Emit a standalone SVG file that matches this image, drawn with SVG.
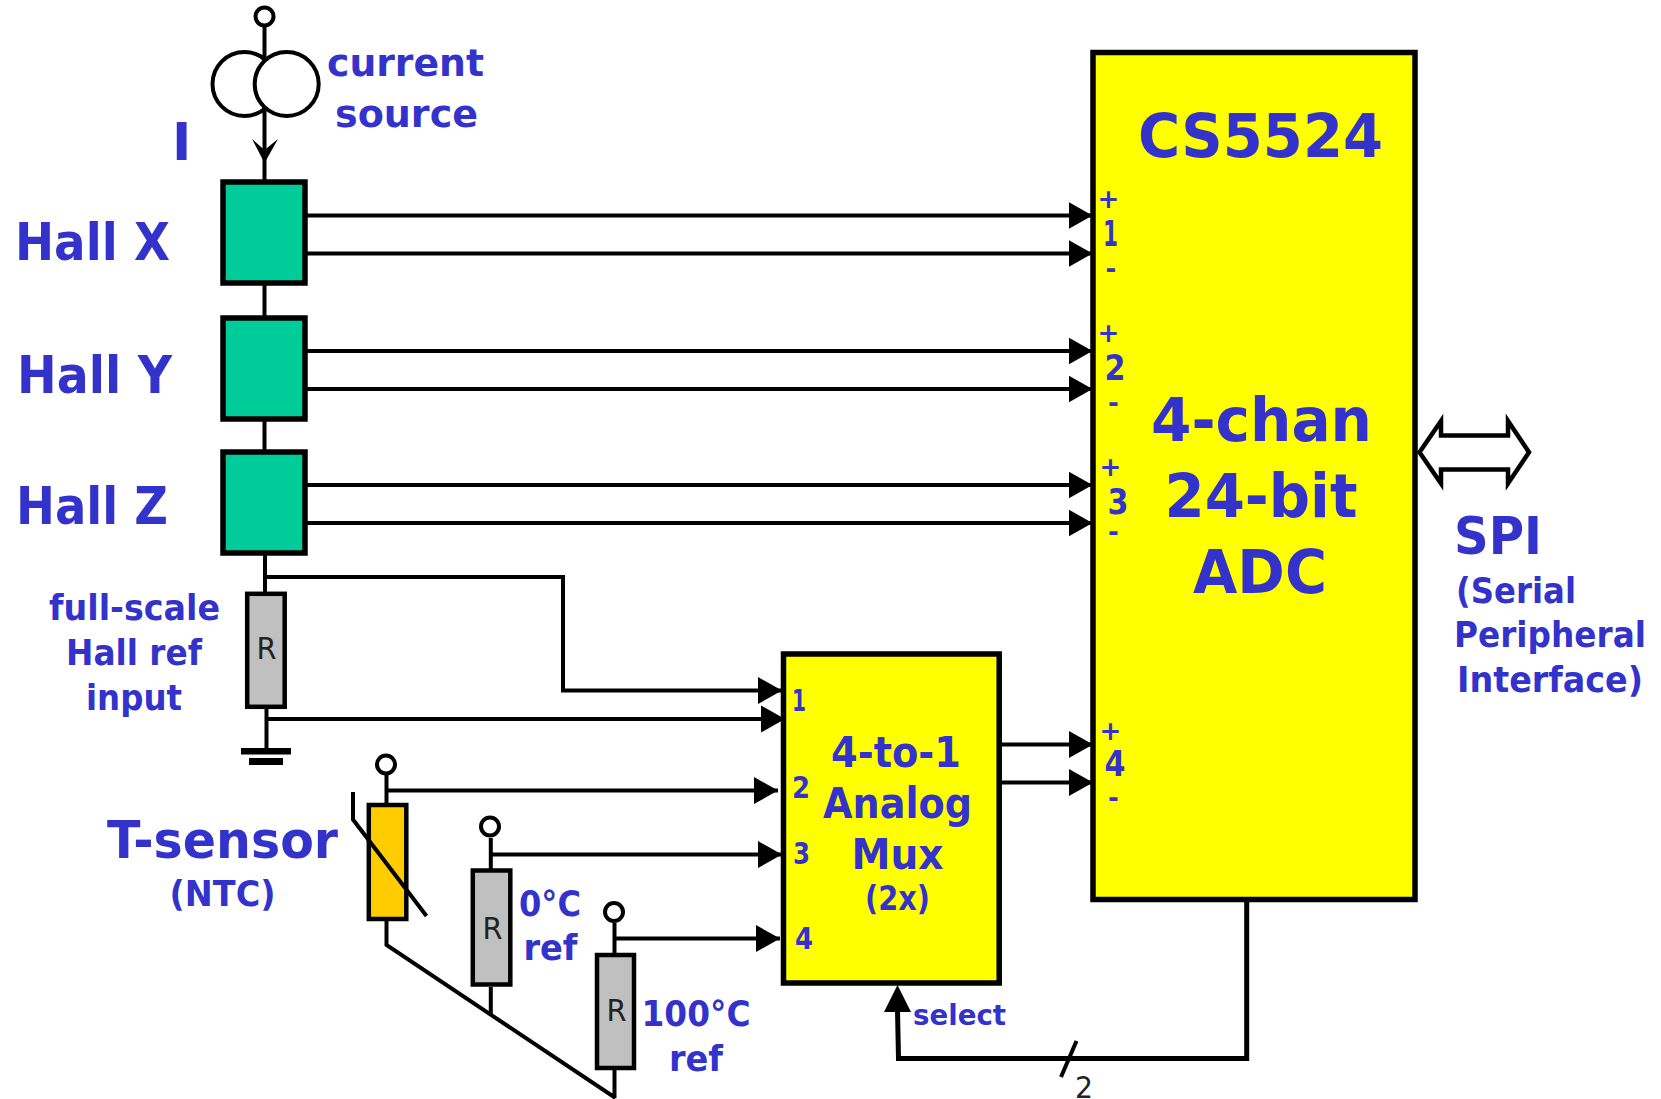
<svg xmlns="http://www.w3.org/2000/svg" width="1661" height="1099" viewBox="0 0 1661 1099">
<style>
text{font-family:"DejaVu Sans","Liberation Sans",sans-serif;font-weight:700;fill:#3333cc}
text.r{font-weight:400;fill:#222}
.box{stroke:#000;stroke-width:5.5}
.res{stroke:#000;stroke-width:4.5;fill:#c0c0c0}
.w{stroke:#000;stroke-width:4;fill:none}
.t{stroke:#000;stroke-width:4;fill:#fff}
</style>
<defs>
<marker id="a" markerUnits="userSpaceOnUse" markerWidth="25" markerHeight="28" refX="24" refY="14" orient="auto"><path d="M0 0.5L24 14L0 27.500z" fill="#000"/></marker>
</defs>
<g id="hall-x"><rect class="box" x="223" y="182" width="82" height="101" fill="#00cc99"/>
<text x="15" y="260" font-size="52" textLength="155" lengthAdjust="spacingAndGlyphs">Hall X</text></g>
<g id="hall-y"><rect class="box" x="223" y="318" width="82" height="101" fill="#00cc99"/>
<text x="17" y="392.500" font-size="52" textLength="155" lengthAdjust="spacingAndGlyphs">Hall Y</text></g>
<g id="hall-z"><rect class="box" x="223" y="452" width="82" height="101" fill="#00cc99"/>
<text x="16" y="524" font-size="52" textLength="152" lengthAdjust="spacingAndGlyphs">Hall Z</text></g>
<g id="hall-ref">
<rect class="res" x="247.200" y="593.800" width="37.500" height="113"/>
<text class="r" x="256.500" y="659" font-size="30" textLength="20" lengthAdjust="spacingAndGlyphs">R</text>
<text x="49" y="620" font-size="35" textLength="171" lengthAdjust="spacingAndGlyphs">full-scale</text>
<text x="66" y="665" font-size="35" textLength="136" lengthAdjust="spacingAndGlyphs">Hall ref</text>
<text x="86" y="710" font-size="35" textLength="96" lengthAdjust="spacingAndGlyphs">input</text>
</g>
<g id="t-sensor">
<circle class="t" cx="386" cy="764.500" r="9"/>
<rect class="res" x="368.800" y="805" width="37.500" height="114" style="fill:#ffcc00"/>
<path class="w" d="M353 792V819.500L426.500 916"/>
<text x="107" y="858" font-size="52" textLength="231" lengthAdjust="spacingAndGlyphs">T-sensor</text>
<text x="169.500" y="906" font-size="35" textLength="106" lengthAdjust="spacingAndGlyphs">(NTC)</text>
</g>
<g id="ref-0">
<circle class="t" cx="490" cy="826.500" r="9"/>
<rect class="res" x="472.800" y="870.500" width="37.500" height="114"/>
<text class="r" x="482.500" y="939" font-size="30" textLength="20" lengthAdjust="spacingAndGlyphs">R</text>
<text x="519" y="916" font-size="35" textLength="62" lengthAdjust="spacingAndGlyphs">0°C</text>
<text x="523.500" y="960" font-size="35" textLength="54" lengthAdjust="spacingAndGlyphs">ref</text>
</g>
<g id="ref-100">
<circle class="t" cx="614" cy="912" r="9"/>
<rect class="res" x="597" y="955" width="37" height="113"/>
<text class="r" x="606.500" y="1021" font-size="30" textLength="20" lengthAdjust="spacingAndGlyphs">R</text>
<text x="641.500" y="1025.500" font-size="35" textLength="109" lengthAdjust="spacingAndGlyphs">100°C</text>
<text x="669" y="1070.500" font-size="35" textLength="54" lengthAdjust="spacingAndGlyphs">ref</text>
</g>
<g id="mux">
<rect class="box" x="783.500" y="654" width="215.700" height="329" fill="#ffff00"/>
<text x="792" y="710.500" font-size="30" textLength="14" lengthAdjust="spacingAndGlyphs">1</text>
<text x="792" y="798" font-size="30" textLength="18" lengthAdjust="spacingAndGlyphs">2</text>
<text x="793" y="864" font-size="30" textLength="17" lengthAdjust="spacingAndGlyphs">3</text>
<text x="795" y="948.500" font-size="30" textLength="18" lengthAdjust="spacingAndGlyphs">4</text>
<text x="831" y="767" font-size="42" textLength="130" lengthAdjust="spacingAndGlyphs">4-to-1</text>
<text x="823" y="817.500" font-size="42" textLength="149" lengthAdjust="spacingAndGlyphs">Analog</text>
<text x="851.500" y="869" font-size="42" textLength="92" lengthAdjust="spacingAndGlyphs">Mux</text>
<text x="865" y="910" font-size="33" textLength="65" lengthAdjust="spacingAndGlyphs">(2x)</text>
<text x="913" y="1024.500" font-size="29" textLength="93" lengthAdjust="spacingAndGlyphs">select</text>
<text class="r" x="1075" y="1097.500" font-size="30" textLength="18" lengthAdjust="spacingAndGlyphs">2</text>
</g>
<g id="adc">
<rect class="box" x="1093" y="52.500" width="322" height="847" fill="#ffff00"/>
<text x="1138" y="157" font-size="60" textLength="245" lengthAdjust="spacingAndGlyphs">CS5524</text>
<text x="1151" y="441" font-size="60" textLength="221" lengthAdjust="spacingAndGlyphs">4-chan</text>
<text x="1164.500" y="517" font-size="60" textLength="193" lengthAdjust="spacingAndGlyphs">24-bit</text>
<text x="1193" y="593" font-size="60" textLength="134" lengthAdjust="spacingAndGlyphs">ADC</text>
<text x="1097.500" y="208" font-size="26">+</text>
<text x="1103" y="246" font-size="36" textLength="15" lengthAdjust="spacingAndGlyphs">1</text>
<text x="1105.500" y="278" font-size="26">-</text>
<text x="1097.500" y="341.500" font-size="26">+</text>
<text x="1104.500" y="380" font-size="36" textLength="21" lengthAdjust="spacingAndGlyphs">2</text>
<text x="1108" y="412" font-size="26">-</text>
<text x="1099.500" y="475.500" font-size="26">+</text>
<text x="1107.500" y="514" font-size="36" textLength="21" lengthAdjust="spacingAndGlyphs">3</text>
<text x="1108" y="541" font-size="26">-</text>
<text x="1099.500" y="739.500" font-size="26">+</text>
<text x="1104.500" y="776" font-size="36" textLength="21" lengthAdjust="spacingAndGlyphs">4</text>
<text x="1108" y="807" font-size="26">-</text>
</g>
<g id="spi">
<path d="M1419.500 452.300L1441 421V435.500H1508V421L1529 452.300L1508 483.500V469.500H1441V483.500z" fill="#fff" stroke="#000" stroke-width="4.500"/>
<text x="1454" y="553.500" font-size="52" textLength="88" lengthAdjust="spacingAndGlyphs">SPI</text>
<text x="1456" y="602.500" font-size="35" textLength="120" lengthAdjust="spacingAndGlyphs">(Serial</text>
<text x="1454" y="647" font-size="35" textLength="192" lengthAdjust="spacingAndGlyphs">Peripheral</text>
<text x="1457" y="692" font-size="35" textLength="186" lengthAdjust="spacingAndGlyphs">Interface)</text>
</g>
<g id="connectors">
<path class="w" d="M264.500 26V180M264.500 283V318M264.500 418V452M265 554V592"/>
<path d="M264.500 163L252 139L264.500 150L278 139z" fill="#000"/>
<path class="w" marker-end="url(#a)" d="M305 215.500H1092.500"/>
<path class="w" marker-end="url(#a)" d="M305 253.500H1092.500"/>
<path class="w" marker-end="url(#a)" d="M305 351H1092.500"/>
<path class="w" marker-end="url(#a)" d="M305 389H1092.500"/>
<path class="w" marker-end="url(#a)" d="M305 485H1092.500"/>
<path class="w" marker-end="url(#a)" d="M305 523H1092.500"/>
<path class="w" marker-end="url(#a)" d="M265 577H563V690.500H782"/>
<path class="w" marker-end="url(#a)" d="M266.500 719H785"/>
<path class="w" d="M266.500 708V748"/>
<path d="M241 748H291V754.500H241zM249 758H283V765H249z" fill="#000"/>
<path class="w" d="M386.500 774V803M386.500 921V945L615.500 1098M490.800 838V869M490.800 987V1014M614.500 923V954M614.500 1070V1098"/>
<path class="w" marker-end="url(#a)" d="M386.500 790.500H778"/>
<path class="w" marker-end="url(#a)" d="M490.800 854.500H782"/>
<path class="w" marker-end="url(#a)" d="M614.500 938.500H780"/>
<path class="w" marker-end="url(#a)" d="M1001 744.500H1093"/>
<path class="w" marker-end="url(#a)" d="M1001 782.500H1093"/>
<path d="M1246.700 902V1058.500H898.500L897.500 1010" fill="none" stroke="#000" stroke-width="5"/>
<path d="M897.500 985L911 1012H884z" fill="#000"/>
<path class="w" d="M1076.500 1041L1061 1077"/>
</g>
<g id="current-source">
<circle class="t" cx="264.500" cy="16.500" r="9"/>
<circle cx="244.500" cy="84" r="32" fill="none" stroke="#000" stroke-width="4"/>
<circle cx="286.700" cy="84" r="32" fill="#fff" stroke="#000" stroke-width="4"/>
<text x="327" y="75.500" font-size="37" textLength="157" lengthAdjust="spacingAndGlyphs">current</text>
<text x="335" y="126.500" font-size="37" textLength="143" lengthAdjust="spacingAndGlyphs">source</text>
<text x="172" y="160" font-size="52">I</text>
</g>
</svg>
